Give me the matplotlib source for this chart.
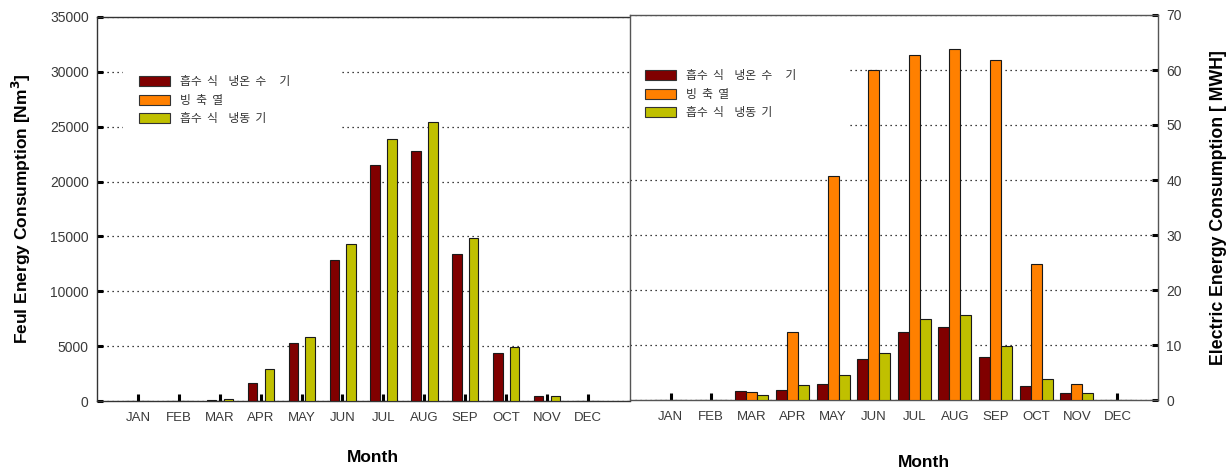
import matplotlib
matplotlib.use("Agg")
import matplotlib.pyplot as plt
from matplotlib.patches import Patch, Rectangle
import numpy as np

plt.rcParams['font.family'] = ['Liberation Sans', 'DejaVu Sans']

months = ["JAN", "FEB", "MAR", "APR", "MAY", "JUN", "JUL", "AUG", "SEP", "OCT", "NOV", "DEC"]
series_names = ["흡수  식    냉온  수     기", "빙  축  열", "흡수  식    냉동  기"]
series_colors = ["#800000", "#FF8000", "#C0C000"]

# Fuel consumption [Nm3]
fuel_chiller_heater = [0, 0, 120, 1600, 5300, 12850, 21500, 22800, 13400, 4400, 450, 0]
fuel_ice_storage = [0, 0, 0, 0, 0, 0, 0, 0, 0, 0, 0, 0]
fuel_abs_chiller = [0, 0, 200, 2900, 5850, 14300, 23900, 25400, 14900, 4900, 450, 0]

# Electric consumption [MWH]
elec_chiller_heater = [0, 0, 1.6, 1.8, 3.0, 7.5, 12.4, 13.2, 7.9, 2.6, 1.3, 0]
elec_ice_storage = [0, 0, 1.5, 12.3, 40.7, 60.0, 62.7, 63.9, 61.9, 24.7, 3.0, 0]
elec_abs_chiller = [0, 0, 0.85, 2.7, 4.6, 8.5, 14.7, 15.4, 9.9, 3.9, 1.2, 0]

W, H = 1231, 469
fig = plt.figure(figsize=(W / 100, H / 100), dpi=100)


def px_axes(x0, x1, ytop, ybot):
    return fig.add_axes([x0 / W, (H - ybot) / H, (x1 - x0) / W, (ybot - ytop) / H])


ax1 = px_axes(97, 630, 17, 401)
ax2 = px_axes(630, 1158, 15, 400)

x = np.arange(len(months))
label_color = "#3a3a3a"


def draw_bars(ax, data, width, offsets):
    for vals, col, off in zip(data, series_colors, offsets):
        ax.bar(x + off, vals, width, color=col, edgecolor="#1a1a1a",
               linewidth=0.8, zorder=3)


def style_axes(ax, spine_color):
    ax.set_axisbelow(True)
    ax.yaxis.grid(True, linestyle=(0, (1, 3)), color="black", linewidth=0.9)
    ax.set_xticks(x)
    ax.set_xticklabels(months, fontsize=9.5, color=label_color)
    ax.tick_params(axis="x", direction="in", length=5, width=2.2,
                   color="black", pad=8)
    ax.tick_params(axis="y", direction="in", length=4.5, width=2.2,
                   color="black", labelsize=10, labelcolor=label_color, pad=6)
    for s in ax.spines.values():
        s.set_color(spine_color)
        s.set_linewidth(1.0)


# Left panel: fuel energy
draw_bars(ax1, [fuel_chiller_heater, fuel_ice_storage, fuel_abs_chiller],
          0.23, [-0.2, 0.0, 0.21])
ax1.set_xlim(-1.0, 12.03)
ax1.set_ylim(0, 35000)
ax1.set_yticks(np.arange(0, 35001, 5000))
style_axes(ax1, "#333333")
ax1.spines["right"].set_visible(False)
ax1.set_ylabel("Feul Energy Consumption [Nm$^\\mathbf{3}$]", fontsize=12.5,
               fontweight="bold", labelpad=12)
ax1.add_patch(Rectangle((0.049, 0.69), 0.405, 0.20, transform=ax1.transAxes,
                        facecolor="white", edgecolor="none", zorder=1))

# Right panel: electric energy
draw_bars(ax2, [elec_chiller_heater, elec_ice_storage, elec_abs_chiller],
          0.27, [-0.27, 0.0, 0.27])
ax2.set_xlim(-1.0, 12.0)
ax2.set_ylim(0, 70)
ax2.set_yticks(np.arange(0, 71, 10))
style_axes(ax2, "#555555")
ax2.yaxis.tick_right()
ax2.yaxis.set_label_position("right")
ax2.tick_params(axis="y", which="both", left=False, right=True)
ax2.set_ylabel("Electric Energy Consumption [ MWH]", fontsize=12.8,
               fontweight="bold", labelpad=20)
ax2.add_patch(Rectangle((0.0, 0.685), 0.411, 0.21, transform=ax2.transAxes,
                        facecolor="white", edgecolor="none", zorder=1))

handles = [Patch(facecolor=c, edgecolor="#333333", linewidth=0.8) for c in series_colors]
leg_font = dict(family=["Noto Sans CJK KR", "DejaVu Sans"], size=8.5)
for ax, (lx, ly) in [(ax1, (137, 73)), (ax2, (643, 67))]:
    leg = ax.legend(handles, series_names, loc="upper left",
                    bbox_to_anchor=(lx / W, (H - ly) / H),
                    bbox_transform=fig.transFigure, frameon=False,
                    prop=leg_font, handlelength=2.6, handleheight=0.95,
                    labelspacing=0.45, handletextpad=0.8, borderpad=0.2,
                    borderaxespad=0)
    for t in leg.get_texts():
        t.set_color("#333333")

fig.text(373 / W, (H - 457) / H, "Month", ha="center", va="center",
         fontsize=12.5, fontweight="bold")
fig.text(924 / W, (H - 462) / H, "Month", ha="center", va="center",
         fontsize=12.5, fontweight="bold")

fig.savefig("out.png", dpi=100)
